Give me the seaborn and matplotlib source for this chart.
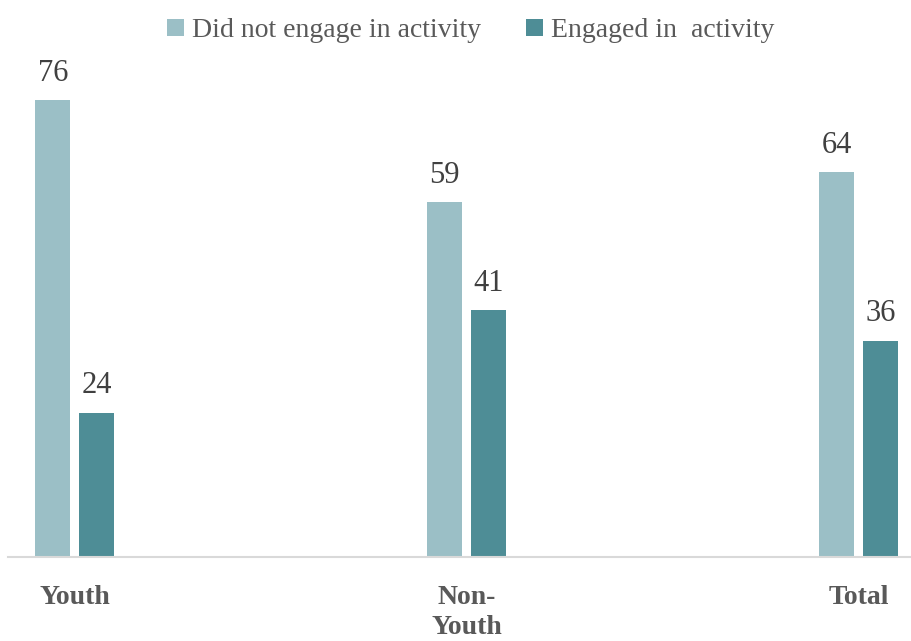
import matplotlib
matplotlib.use("Agg")
import matplotlib.pyplot as plt
import seaborn as sns
import pandas as pd

groups = ["Youth", "Non-\nYouth", "Total"]
series = ["Did not engage in activity", "Engaged in  activity"]
did_not_engage = [76, 59, 64]
engaged = [24, 41, 36]

colors = ["#9bbfc6", "#4e8d96"]

df = pd.DataFrame({
    "group": groups * 2,
    "series": [series[0]] * 3 + [series[1]] * 3,
    "value": did_not_engage + engaged,
})

sns.set_theme(style="white")
plt.rcParams["font.family"] = ["Liberation Serif", "DejaVu Serif"]

fig = plt.figure(figsize=(9.12, 6.41), dpi=100)
ax = fig.add_axes([8 / 912, (641 - 557) / 641, 904 / 912, 481 / 641])

sns.barplot(data=df, x="group", y="value", hue="series", order=groups,
            hue_order=series, palette=colors, width=0.2245, gap=0.204,
            saturation=1, linewidth=0, ax=ax, legend=True)

for cont in ax.containers:
    ax.bar_label(cont, fmt="%d", padding=9, fontsize=22, color="#404040")

ax.set_xlim(-0.1705, 2.1355)
ax.set_ylim(0, 80)
ax.set_xlabel("")
ax.set_ylabel("")
ax.set_yticks([])
for s in ["top", "right", "left"]:
    ax.spines[s].set_visible(False)
ax.spines["bottom"].set_color("#d9d9d9")
ax.spines["bottom"].set_linewidth(1.5)
ax.tick_params(axis="x", length=0, pad=20)
for lbl in ax.get_xticklabels():
    lbl.set_fontsize(20)
    lbl.set_fontweight("bold")
    lbl.set_color("#595959")
    lbl.set_verticalalignment("top")
    lbl.set_linespacing(1.3)

handles, labels = ax.get_legend_handles_labels()
ax.legend(handles, labels, loc="upper center", bbox_to_anchor=(0.512, 1.172),
          ncol=2, frameon=False, fontsize=20, handlelength=0.6, handleheight=0.6,
          handletextpad=0.3, columnspacing=1.6, labelcolor="#595959")

fig.savefig("out.png", dpi=100)
